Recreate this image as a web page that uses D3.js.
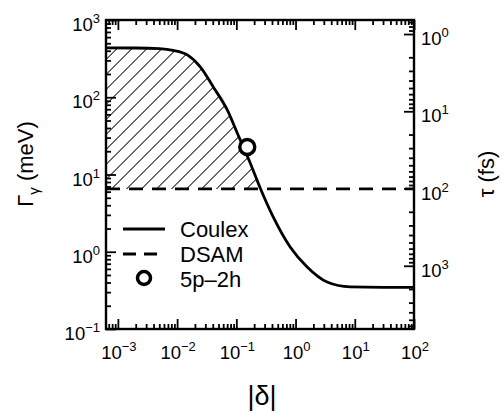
<!DOCTYPE html>
<html>
<head>
<meta charset="utf-8">
<script src="https://cdn.jsdelivr.net/npm/d3@7"></script>
<style>
  body { margin: 0; background: #fff; }
  text { font-family: "Liberation Sans", Arial, Helvetica, sans-serif; fill: #000; }
</style>
</head>
<body>
<script>
// data
const coulexDelta = [6.3e-4, 0.002, 0.005, 0.0085, 0.0149, 0.0246, 0.0408, 0.0703, 0.1036, 0.1715, 0.253, 0.419, 0.811, 1.57, 3.41, 8.34, 30, 100];
const coulexGamma = [435, 434, 425, 405, 353, 247, 136, 68.4, 34.5, 14.1, 6.68, 2.82, 1.15, 0.634, 0.405, 0.35, 0.345, 0.345];
const dsamGamma = 6.5;
const calcDelta = [0.153];
const calcGamma = [22.7];
const legendLabels = ['Coulex', 'DSAM', '5p\u20132h'];
const xTickExps = [-3, -2, -1, 0, 1, 2];
const yTickExps = [-1, 0, 1, 2, 3];
const tauTickExps = [0, 1, 2, 3];
const HBAR = 658.2; // meV fs, tau = hbar / Gamma

// set the dimensions of the graph
let width = 503, height = 413;
let plot = {left: 106, right: 414, top: 20, bottom: 329};

let svg = d3.select('body').append('svg')
    .attr('width', width)
    .attr('height', height);

//scales
let x = d3.scaleLog().domain([6.3e-4, 100]).range([plot.left, plot.right]);
let y = d3.scaleLog().domain([0.1, 1000]).range([plot.bottom, plot.top]);
let tau = d3.scaleLog().domain([HBAR / 0.1, HBAR / 1000]).range([plot.bottom, plot.top]);

function minorTicks(scale, lo, hi) {
    let out = [];
    let [d0, d1] = d3.extent(scale.domain());
    for (let k = lo; k <= hi; k++) {
        for (let m = 2; m <= 9; m++) {
            let v = m * Math.pow(10, k);
            if (v > d0 && v < d1) out.push(v);
        }
    }
    return out;
}

let defs = svg.append('defs');
let hatch = defs.append('pattern')
    .attr('id', 'hatch')
    .attr('patternUnits', 'userSpaceOnUse')
    .attr('width', 10.6)
    .attr('height', 10.6)
    .attr('patternTransform', 'rotate(45)');
hatch.append('line')
    .attr('x1', 0).attr('y1', 0).attr('x2', 0).attr('y2', 10.6)
    .attr('stroke', '#000').attr('stroke-width', 1.8);

defs.append('clipPath').attr('id', 'aboveDsam')
    .append('rect')
    .attr('x', plot.left).attr('y', plot.top)
    .attr('width', plot.right - plot.left)
    .attr('height', y(dsamGamma) - plot.top);

defs.append('clipPath').attr('id', 'plotArea')
    .append('rect')
    .attr('x', plot.left).attr('y', plot.top)
    .attr('width', plot.right - plot.left)
    .attr('height', plot.bottom - plot.top);

let coulex = coulexDelta.map((d, i) => ({delta: d, gamma: coulexGamma[i]}));

// hatched region between the curve and the DSAM line
let area = d3.area()
    .x(d => x(d.delta))
    .y0(y(dsamGamma))
    .y1(d => y(d.gamma))
    .curve(d3.curveMonotoneX);

svg.append('path')
    .datum(coulex)
    .attr('d', area)
    .attr('fill', 'url(#hatch)')
    .attr('clip-path', 'url(#aboveDsam)');

// DSAM line
svg.append('line')
    .attr('x1', plot.left).attr('x2', plot.right)
    .attr('y1', y(dsamGamma)).attr('y2', y(dsamGamma))
    .attr('stroke', '#000')
    .attr('stroke-width', 2.8)
    .attr('stroke-dasharray', '14,9');

// Coulex curve
let line = d3.line()
    .x(d => x(d.delta))
    .y(d => y(d.gamma))
    .curve(d3.curveMonotoneX);

svg.append('path')
    .datum(coulex)
    .attr('d', line)
    .attr('fill', 'none')
    .attr('stroke', '#000')
    .attr('stroke-width', 2.8)
    .attr('clip-path', 'url(#plotArea)');

// 5p-2h point
svg.selectAll('circle.calc')
    .data(calcDelta)
    .enter().append('circle')
    .attr('class', 'calc')
    .attr('cx', d => x(d))
    .attr('cy', (d, i) => y(calcGamma[i]))
    .attr('r', 7.5)
    .attr('fill', '#fff')
    .attr('stroke', '#000')
    .attr('stroke-width', 3.4);

//axes (ticks inside)
function drawAxis(axisFn, scale, transform, major, minor) {
    let gMaj = svg.append('g').attr('transform', transform)
        .call(axisFn(scale).tickValues(major).tickSize(-10).tickFormat(''));
    let gMin = svg.append('g').attr('transform', transform)
        .call(axisFn(scale).tickValues(minor).tickSize(-5).tickFormat(''));
    [gMaj, gMin].forEach(g => {
        g.select('.domain').remove();
        g.selectAll('line').attr('stroke', '#000').attr('stroke-width', 1.8);
    });
}

let xMajor = xTickExps.map(e => Math.pow(10, e));
let yMajor = yTickExps.map(e => Math.pow(10, e));
let tauMajor = tauTickExps.map(e => Math.pow(10, e));

drawAxis(d3.axisBottom, x, `translate(0,${plot.bottom})`, xMajor, minorTicks(x, -4, 1));
drawAxis(d3.axisTop, x, `translate(0,${plot.top})`, xMajor, minorTicks(x, -4, 1));
drawAxis(d3.axisLeft, y, `translate(${plot.left},0)`, yMajor, minorTicks(y, -1, 2));
drawAxis(d3.axisRight, tau, `translate(${plot.right},0)`, tauMajor, minorTicks(tau, -1, 3));

svg.append('rect')
    .attr('x', plot.left).attr('y', plot.top)
    .attr('width', plot.right - plot.left)
    .attr('height', plot.bottom - plot.top)
    .attr('fill', 'none')
    .attr('stroke', '#000')
    .attr('stroke-width', 2.4);

// power-of-ten labels
function powLabel(sel, exp) {
    sel.append('tspan').text('10');
    sel.append('tspan')
        .attr('dy', -8)
        .attr('font-size', 13)
        .text(exp < 0 ? '\u2212' + (-exp) : exp);
}

svg.selectAll('text.xtick')
    .data(xTickExps)
    .enter().append('text')
    .attr('class', 'xtick')
    .attr('x', d => x(Math.pow(10, d)) + 1)
    .attr('y', 359)
    .attr('font-size', 18.5)
    .attr('text-anchor', 'middle')
    .each(function (d) { powLabel(d3.select(this), d); });

svg.selectAll('text.ytick')
    .data(yTickExps)
    .enter().append('text')
    .attr('class', 'ytick')
    .attr('x', plot.left - 6)
    .attr('y', d => y(Math.pow(10, d)) + 11)
    .attr('font-size', 18.5)
    .attr('text-anchor', 'end')
    .each(function (d) { powLabel(d3.select(this), d); });

svg.selectAll('text.tautick')
    .data(tauTickExps)
    .enter().append('text')
    .attr('class', 'tautick')
    .attr('x', plot.right + 7)
    .attr('y', d => tau(Math.pow(10, d)) + 11)
    .attr('font-size', 18.5)
    .attr('text-anchor', 'start')
    .each(function (d) { powLabel(d3.select(this), d); });

// axis titles
let yTitle = svg.append('text')
    .attr('transform', 'translate(33,164) rotate(-90)')
    .attr('text-anchor', 'middle')
    .attr('font-size', 22);
yTitle.append('tspan').text('\u0393');
yTitle.append('tspan').attr('dy', 6).attr('font-size', 15).text('\u03b3');
yTitle.append('tspan').attr('dy', -6).text(' (meV)');

svg.append('text')
    .attr('transform', 'translate(494,174) rotate(-90)')
    .attr('text-anchor', 'middle')
    .attr('font-size', 22)
    .text('\u03c4 (fs)');

svg.append('text')
    .attr('x', 262)
    .attr('y', 405)
    .attr('text-anchor', 'middle')
    .attr('font-size', 27)
    .text('|\u03b4|');

// legend
let legend = svg.append('g').attr('transform', 'translate(123,229)');
let rowGap = 25;

legend.append('line')
    .attr('x1', 0).attr('x2', 42).attr('y1', 0).attr('y2', 0)
    .attr('stroke', '#000').attr('stroke-width', 2.8);
legend.append('line')
    .attr('x1', 0).attr('x2', 42).attr('y1', rowGap).attr('y2', rowGap)
    .attr('stroke', '#000').attr('stroke-width', 2.8)
    .attr('stroke-dasharray', '13,8');
legend.append('circle')
    .attr('cx', 21).attr('cy', 2 * rowGap - 1).attr('r', 6.5)
    .attr('fill', '#fff').attr('stroke', '#000').attr('stroke-width', 3.5);

legend.selectAll('text')
    .data(legendLabels)
    .enter().append('text')
    .attr('x', 57)
    .attr('y', (d, i) => i * rowGap + 8)
    .attr('font-size', 22)
    .text(d => d);
</script>
</body>
</html>
